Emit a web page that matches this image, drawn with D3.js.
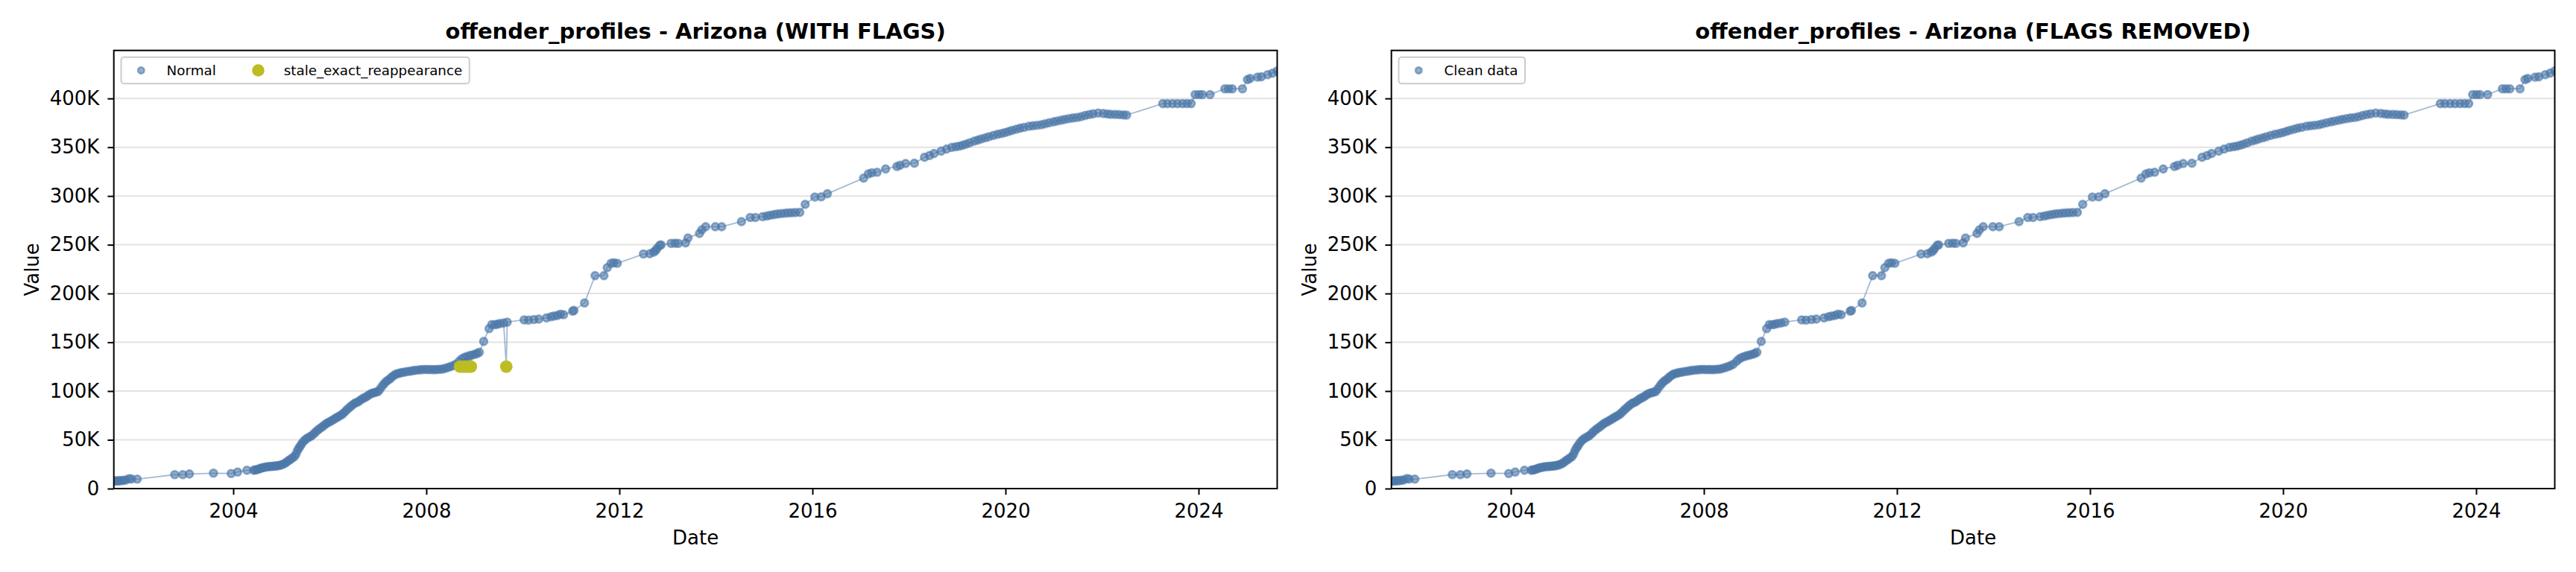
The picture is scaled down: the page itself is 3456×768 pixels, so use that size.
<!DOCTYPE html>
<html>
<head>
<meta charset="utf-8">
<script src="https://cdn.jsdelivr.net/npm/d3@7"></script>
<style>
  body { margin: 0; background: #fff; }
  svg { display: block; font-family: "DejaVu Sans", sans-serif; }
</style>
</head>
<body>
<script>
const width = 3456;
const height = 768;

const blue = "#4c78a8";
const olive = "#bcbd22";

// [date, value]
const normalPoints = [
  ["2001-07-11", 7500], ["2001-07-25", 8200], ["2001-08-08", 7600], ["2001-08-22", 8300],
  ["2001-09-06", 8000], ["2001-09-22", 8600], ["2001-10-10", 8800], ["2001-11-03", 10200],
  ["2001-11-22", 9800], ["2002-01-04", 9700],
  ["2002-10-15", 14300], ["2002-12-15", 14300], ["2003-02-03", 15000], ["2003-08-04", 15800],
  ["2003-12-16", 15500], ["2004-02-03", 17000], ["2004-04-13", 18800],
  ["2004-06-03", 18800], ["2004-06-14", 19100], ["2004-06-25", 19400], ["2004-07-08", 19900],
  ["2004-07-20", 20500], ["2004-08-02", 21100], ["2004-08-15", 21600], ["2004-08-28", 22000],
  ["2004-09-10", 22300], ["2004-09-24", 22500], ["2004-10-08", 22700], ["2004-10-22", 22800],
  ["2004-11-05", 23000], ["2004-11-18", 23200], ["2004-12-01", 23400], ["2004-12-15", 23800],
  ["2004-12-28", 24300],
  ["2005-01-12", 25000], ["2005-01-26", 26000], ["2005-02-09", 27300], ["2005-02-23", 28800],
  ["2005-03-09", 30000], ["2005-03-23", 31500], ["2005-04-08", 32800], ["2005-04-20", 35500],
  ["2005-05-01", 39000], ["2005-05-11", 41500], ["2005-05-22", 43500], ["2005-06-02", 46000],
  ["2005-06-16", 48500], ["2005-07-01", 50400], ["2005-07-15", 51800], ["2005-08-01", 53000],
  ["2005-08-16", 54200], ["2005-09-01", 56000], ["2005-09-15", 58000], ["2005-10-01", 60000],
  ["2005-10-15", 61500], ["2005-11-01", 63000], ["2005-11-15", 64500], ["2005-12-01", 66200],
  ["2005-12-15", 67500],
  ["2006-01-01", 68500], ["2006-01-15", 69800], ["2006-02-01", 71000], ["2006-02-15", 72300],
  ["2006-03-01", 73400], ["2006-03-15", 74500], ["2006-04-01", 75800], ["2006-04-15", 77500],
  ["2006-05-01", 79500], ["2006-05-15", 81500], ["2006-06-01", 83400], ["2006-06-15", 85200],
  ["2006-07-01", 86800], ["2006-07-15", 88000], ["2006-08-01", 88800], ["2006-08-15", 90200],
  ["2006-09-01", 91800], ["2006-09-15", 93000], ["2006-10-01", 93800], ["2006-10-15", 95300],
  ["2006-11-01", 96800], ["2006-11-15", 97800], ["2006-12-01", 98300], ["2006-12-15", 98900],
  ["2007-01-01", 99500], ["2007-01-15", 102000], ["2007-02-01", 105000], ["2007-02-15", 107500],
  ["2007-03-01", 109500], ["2007-03-15", 111000], ["2007-04-01", 112500], ["2007-04-15", 114500],
  ["2007-05-01", 116000], ["2007-05-15", 117300], ["2007-06-01", 118000], ["2007-06-15", 118600],
  ["2007-07-01", 119000], ["2007-07-20", 119400], ["2007-08-10", 120000], ["2007-09-01", 120400],
  ["2007-09-20", 120900], ["2007-10-10", 121300], ["2007-11-01", 121600], ["2007-11-20", 121900],
  ["2007-12-10", 122100],
  ["2008-01-01", 122200], ["2008-01-20", 122000], ["2008-02-10", 122100], ["2008-03-01", 121900],
  ["2008-03-20", 122100], ["2008-04-10", 122300], ["2008-05-01", 122500], ["2008-05-20", 123200],
  ["2008-06-10", 124000], ["2008-07-01", 125000], ["2008-07-20", 126000], ["2008-08-10", 127500],
  ["2008-09-05", 130500], ["2008-09-25", 133000], ["2008-10-15", 134500], ["2008-11-05", 135500],
  ["2008-11-25", 136400], ["2008-12-15", 137000], ["2009-01-05", 137800], ["2009-01-20", 138600],
  ["2009-02-05", 139800],
  ["2009-03-10", 150900], ["2009-04-20", 164000], ["2009-05-10", 168200], ["2009-06-01", 168000],
  ["2009-06-20", 168500], ["2009-07-10", 169200], ["2009-08-08", 169800], ["2009-09-04", 170700],
  ["2010-01-10", 173000], ["2010-02-12", 172800], ["2010-03-25", 173300], ["2010-05-01", 173800],
  ["2010-06-28", 175000], ["2010-08-01", 176200], ["2010-08-25", 177000], ["2010-09-20", 177500],
  ["2010-10-12", 178900], ["2010-11-05", 178300],
  ["2011-01-12", 181900], ["2011-01-22", 182700], ["2011-04-12", 190300], ["2011-07-01", 218300],
  ["2011-09-06", 218300], ["2011-10-01", 226500], ["2011-10-30", 231000], ["2011-11-20", 231500],
  ["2011-12-16", 231000],
  ["2012-07-01", 240500], ["2012-08-18", 240800], ["2012-09-16", 242500], ["2012-10-01", 244000],
  ["2012-10-12", 246300], ["2012-10-31", 249400], ["2012-11-12", 249800],
  ["2013-01-26", 251400], ["2013-02-25", 251600], ["2013-03-22", 251400], ["2013-05-16", 251900],
  ["2013-06-03", 257000], ["2013-08-29", 261600], ["2013-09-16", 265400], ["2013-10-15", 268500],
  ["2013-12-27", 268500],
  ["2014-02-13", 268500], ["2014-07-13", 273800], ["2014-09-17", 277900], ["2014-10-27", 278000],
  ["2014-12-20", 278800],
  ["2015-01-20", 279500], ["2015-02-15", 280200], ["2015-03-15", 280900], ["2015-04-10", 281500],
  ["2015-05-08", 282000], ["2015-06-05", 282300], ["2015-07-01", 282600], ["2015-07-28", 282800],
  ["2015-08-25", 283000], ["2015-09-27", 283200], ["2015-11-07", 291400],
  ["2016-01-19", 299000], ["2016-03-07", 299200], ["2016-04-23", 302300],
  ["2017-01-22", 318300], ["2017-02-27", 322600], ["2017-03-25", 323800], ["2017-05-04", 324400],
  ["2017-07-08", 327700], ["2017-10-01", 330300], ["2017-10-25", 331500], ["2017-12-06", 333300],
  ["2018-02-10", 333600], ["2018-04-28", 339700], ["2018-06-05", 341500], ["2018-07-09", 343500],
  ["2018-09-01", 346000], ["2018-10-12", 348100], ["2018-11-20", 349800], ["2018-12-20", 350500],
  ["2019-01-15", 351100], ["2019-02-10", 352000], ["2019-03-08", 353200], ["2019-04-05", 354500],
  ["2019-05-08", 356200], ["2019-06-05", 357300], ["2019-07-01", 358500], ["2019-08-01", 359700],
  ["2019-08-29", 360800], ["2019-10-01", 362200], ["2019-11-01", 363200], ["2019-12-01", 364100],
  ["2019-12-28", 365000],
  ["2020-01-25", 366200], ["2020-02-20", 367300], ["2020-03-22", 368400], ["2020-04-20", 369500],
  ["2020-05-20", 370400], ["2020-06-25", 371500], ["2020-07-25", 372000], ["2020-08-25", 372500],
  ["2020-09-27", 373000], ["2020-10-25", 374000], ["2020-11-25", 375000], ["2020-12-28", 376000],
  ["2021-01-25", 376800], ["2021-02-25", 377700], ["2021-03-25", 378500], ["2021-04-25", 379300],
  ["2021-05-25", 380000], ["2021-06-25", 380500], ["2021-07-25", 381300], ["2021-08-25", 382500],
  ["2021-09-25", 383500], ["2021-10-25", 384200], ["2021-12-02", 385000],
  ["2022-01-10", 384600], ["2022-02-10", 384100], ["2022-03-08", 383700], ["2022-04-10", 383600],
  ["2022-05-10", 383400], ["2022-06-10", 383200], ["2022-07-05", 383000],
  ["2023-04-05", 394700], ["2023-05-10", 394700], ["2023-06-18", 394700], ["2023-07-25", 394700],
  ["2023-09-01", 394700], ["2023-10-05", 394700], ["2023-11-06", 394700], ["2023-12-06", 404000],
  ["2024-01-05", 404000], ["2024-01-30", 404000], ["2024-03-28", 404000], ["2024-07-18", 409900],
  ["2024-08-15", 409900], ["2024-09-12", 409900], ["2024-11-28", 409900],
  ["2025-01-05", 419300], ["2025-01-25", 420500], ["2025-03-22", 421900], ["2025-04-20", 422200],
  ["2025-06-07", 424400], ["2025-07-15", 426000], ["2025-08-18", 428200],
];

// flagged points (stale_exact_reappearance)
const stalePoints = [
  ["2008-09-12", 125000], ["2008-10-02", 125000], ["2008-10-22", 125000],
  ["2008-11-12", 125000], ["2008-12-03", 125000], ["2009-08-28", 125000],
];

const yTickValues = [0, 50000, 100000, 150000, 200000, 250000, 300000, 350000, 400000];
const xTickYears = [2004, 2008, 2012, 2016, 2020, 2024];

const panels = [
  {
    title: "offender_profiles - Arizona (WITH FLAGS)",
    left: 152.7,
    flags: true,
    legend: [
      { label: "Normal", color: blue, r: 4.3, opacity: 0.6 },
      { label: "stale_exact_reappearance", color: olive, r: 8.3, opacity: 1 },
    ],
  },
  {
    title: "offender_profiles - Arizona (FLAGS REMOVED)",
    left: 1866.7,
    flags: false,
    legend: [{ label: "Clean data", color: blue, r: 4.3, opacity: 0.6 }],
  },
];

const plotW = 1560.8;
const plotTop = 67.7;
const plotBottom = 656;

const parseDate = d3.timeParse("%Y-%m-%d");
const normal = normalPoints.map(([d, v]) => ({ date: parseDate(d), value: v }));
const stale = stalePoints.map(([d, v]) => ({ date: parseDate(d), value: v }));
const allPts = normal.concat(stale).sort((a, b) => a.date - b.date);

const [vMin, vMax] = d3.extent(allPts, (d) => d.value);
const yTop = vMax + 0.05 * (vMax - vMin);

const svg = d3
  .select("body")
  .append("svg")
  .attr("width", width)
  .attr("height", height)
  .attr("viewBox", [0, 0, width, height]);

panels.forEach(drawPanel);

function drawPanel(p, i) {
  const right = p.left + plotW;
  const x = d3.scaleTime().domain(d3.extent(allPts, (d) => d.date)).range([p.left, right]);
  const y = d3.scaleLinear().domain([0, yTop]).range([plotBottom, plotTop]);

  const g = svg.append("g");

  g.append("clipPath")
    .attr("id", "clip" + i)
    .append("rect")
    .attr("x", p.left)
    .attr("y", plotTop)
    .attr("width", plotW)
    .attr("height", plotBottom - plotTop);

  // horizontal grid
  g.append("g")
    .selectAll("line")
    .data(yTickValues)
    .join("line")
    .attr("x1", p.left)
    .attr("x2", right)
    .attr("y1", (d) => y(d))
    .attr("y2", (d) => y(d))
    .attr("stroke", "#e3e3e3")
    .attr("stroke-width", 2);

  const plot = g.append("g").attr("clip-path", `url(#clip${i})`);
  const linePts = p.flags ? allPts : normal;

  plot.append("path")
    .datum(linePts)
    .attr("fill", "none")
    .attr("stroke", blue)
    .attr("stroke-opacity", 0.5)
    .attr("stroke-width", 1.8)
    .attr("d", d3.line().x((d) => x(d.date)).y((d) => y(d.value)));

  plot.append("g")
    .selectAll("circle")
    .data(normal)
    .join("circle")
    .attr("cx", (d) => x(d.date))
    .attr("cy", (d) => y(d.value))
    .attr("r", 5)
    .attr("fill", blue)
    .attr("fill-opacity", 0.6)
    .attr("stroke", blue)
    .attr("stroke-opacity", 0.6)
    .attr("stroke-width", 2.6);

  if (p.flags) {
    plot.append("g")
      .selectAll("circle")
      .data(stale)
      .join("circle")
      .attr("cx", (d) => x(d.date))
      .attr("cy", (d) => y(d.value))
      .attr("r", 8.4)
      .attr("fill", olive);
  }

  // axes
  const xAxis = g.append("g")
    .attr("transform", `translate(0,${plotBottom})`)
    .call(
      d3.axisBottom(x)
        .tickValues(xTickYears.map((yr) => new Date(yr, 0, 1)))
        .tickFormat(d3.timeFormat("%Y"))
        .tickSize(8.3)
        .tickPadding(12.2)
    );
  const yAxis = g.append("g")
    .attr("transform", `translate(${p.left},0)`)
    .call(
      d3.axisLeft(y)
        .tickValues(yTickValues)
        .tickFormat((d) => (d === 0 ? "0" : d / 1000 + "K"))
        .tickSize(8.3)
        .tickPadding(11)
    );
  [xAxis, yAxis].forEach((a) => {
    a.select(".domain").remove();
    a.selectAll(".tick line").attr("stroke", "#000").attr("stroke-width", 2);
    a.selectAll(".tick text")
      .attr("fill", "#000")
      .style("font-size", "26px")
      .style("font-family", '"DejaVu Sans", sans-serif');
  });

  // spines
  g.append("rect")
    .attr("x", p.left)
    .attr("y", plotTop)
    .attr("width", plotW)
    .attr("height", plotBottom - plotTop)
    .attr("fill", "none")
    .attr("stroke", "#000")
    .attr("stroke-width", 2);

  g.append("text")
    .attr("x", p.left + plotW / 2)
    .attr("y", 51.5)
    .attr("text-anchor", "middle")
    .attr("font-size", 29)
    .attr("font-weight", "bold")
    .text(p.title);

  g.append("text")
    .attr("x", p.left + plotW / 2)
    .attr("y", 731)
    .attr("text-anchor", "middle")
    .attr("font-size", 26)
    .text("Date");

  g.append("text")
    .attr("transform", `translate(${p.left - 101},${(plotTop + plotBottom) / 2}) rotate(-90)`)
    .attr("text-anchor", "middle")
    .attr("font-size", 26)
    .text("Value");

  // legend
  const boxX = p.left + 9.8;
  const boxY = 76.7;
  const cy = 94.5;
  const leg = g.append("g");
  const box = leg.append("rect")
    .attr("x", boxX)
    .attr("y", boxY)
    .attr("height", 35.6)
    .attr("rx", 4)
    .attr("fill", "#fff")
    .attr("fill-opacity", 0.8)
    .attr("stroke", "#cccccc")
    .attr("stroke-width", 2);

  let mx = boxX + 26.8;
  let end = mx;
  p.legend.forEach((item) => {
    leg.append("circle")
      .attr("cx", mx)
      .attr("cy", cy)
      .attr("r", item.r)
      .attr("fill", item.color)
      .attr("fill-opacity", item.opacity)
      .attr("stroke", item.opacity < 1 ? item.color : "none")
      .attr("stroke-opacity", item.opacity)
      .attr("stroke-width", 2.4);
    const t = leg.append("text")
      .attr("x", mx + 34.3)
      .attr("y", cy)
      .attr("dy", "0.35em")
      .attr("font-size", 18.3)
      .text(item.label);
    end = mx + 34.3 + t.node().getComputedTextLength();
    mx = end + 56.7;
  });
  box.attr("width", end + 9.5 - boxX);
}
</script>
</body>
</html>
